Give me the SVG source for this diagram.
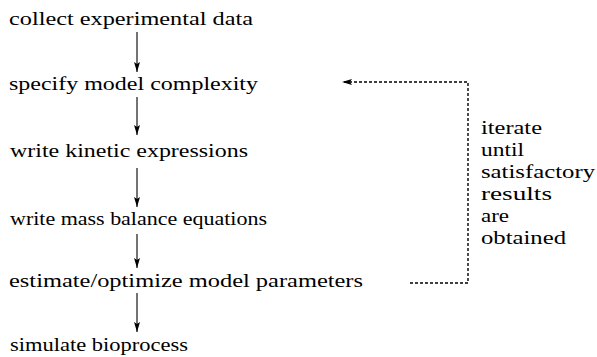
<svg xmlns="http://www.w3.org/2000/svg" width="597" height="357" viewBox="0 0 597 357">
  <style>
    .flow { stroke: #000; stroke-width: 1.1; fill: none; }
    .loop { stroke: #000; stroke-width: 1.4; fill: none; stroke-dasharray: 3 2; }
  </style>
  <defs>
    <marker id="head" markerUnits="userSpaceOnUse" markerWidth="10" markerHeight="6" refX="10" refY="3" orient="auto" viewBox="0 0 10 6">
      <path d="M0,0 L10,3 L0,6 L2,3 Z" fill="#000"/>
    </marker>
  </defs>

  <!-- process steps -->
  <g id="step-collect">
    <text x="9" y="25" style="font-family: 'Liberation Serif', serif !important; font-size: 19px !important; fill: #000" textLength="244" lengthAdjust="spacingAndGlyphs">collect experimental data</text>
  </g>
  <g id="step-specify">
    <text x="9" y="90" style="font-family: 'Liberation Serif', serif !important; font-size: 19px !important; fill: #000" textLength="249" lengthAdjust="spacingAndGlyphs">specify model complexity</text>
  </g>
  <g id="step-kinetic">
    <text x="10" y="157" style="font-family: 'Liberation Serif', serif !important; font-size: 19px !important; fill: #000" textLength="238" lengthAdjust="spacingAndGlyphs">write kinetic expressions</text>
  </g>
  <g id="step-balance">
    <text x="10" y="225" style="font-family: 'Liberation Serif', serif !important; font-size: 19px !important; fill: #000" textLength="257" lengthAdjust="spacingAndGlyphs">write mass balance equations</text>
  </g>
  <g id="step-estimate">
    <text x="9" y="287" style="font-family: 'Liberation Serif', serif !important; font-size: 19px !important; fill: #000" textLength="354" lengthAdjust="spacingAndGlyphs">estimate/optimize model parameters</text>
  </g>
  <g id="step-simulate">
    <text x="10" y="351" style="font-family: 'Liberation Serif', serif !important; font-size: 19px !important; fill: #000" textLength="178" lengthAdjust="spacingAndGlyphs">simulate bioprocess</text>
  </g>

  <!-- loop annotation -->
  <g id="note-iterate">
    <text x="481" y="134" style="font-family: 'Liberation Serif', serif !important; font-size: 19px !important; fill: #000" textLength="61" lengthAdjust="spacingAndGlyphs">iterate</text>
    <text x="481" y="156" style="font-family: 'Liberation Serif', serif !important; font-size: 19px !important; fill: #000" textLength="43" lengthAdjust="spacingAndGlyphs">until</text>
    <text x="481" y="178" style="font-family: 'Liberation Serif', serif !important; font-size: 19px !important; fill: #000" textLength="114" lengthAdjust="spacingAndGlyphs">satisfactory</text>
    <text x="481" y="200" style="font-family: 'Liberation Serif', serif !important; font-size: 19px !important; fill: #000" textLength="71" lengthAdjust="spacingAndGlyphs">results</text>
    <text x="481" y="222" style="font-family: 'Liberation Serif', serif !important; font-size: 19px !important; fill: #000" textLength="28" lengthAdjust="spacingAndGlyphs">are</text>
    <text x="481" y="244" style="font-family: 'Liberation Serif', serif !important; font-size: 19px !important; fill: #000" textLength="85" lengthAdjust="spacingAndGlyphs">obtained</text>
  </g>

  <!-- connectors -->
  <g id="connectors">
    <line class="flow" x1="137" y1="32" x2="137" y2="72" marker-end="url(#head)"/>
    <line class="flow" x1="137" y1="97" x2="137" y2="135" marker-end="url(#head)"/>
    <line class="flow" x1="137" y1="168" x2="137" y2="207" marker-end="url(#head)"/>
    <line class="flow" x1="137" y1="234" x2="137" y2="268" marker-end="url(#head)"/>
    <line class="flow" x1="137" y1="293" x2="137" y2="332" marker-end="url(#head)"/>
    <polyline class="loop" points="410,283 468,283 468,82 342,82" marker-end="url(#head)"/>
  </g>
</svg>
